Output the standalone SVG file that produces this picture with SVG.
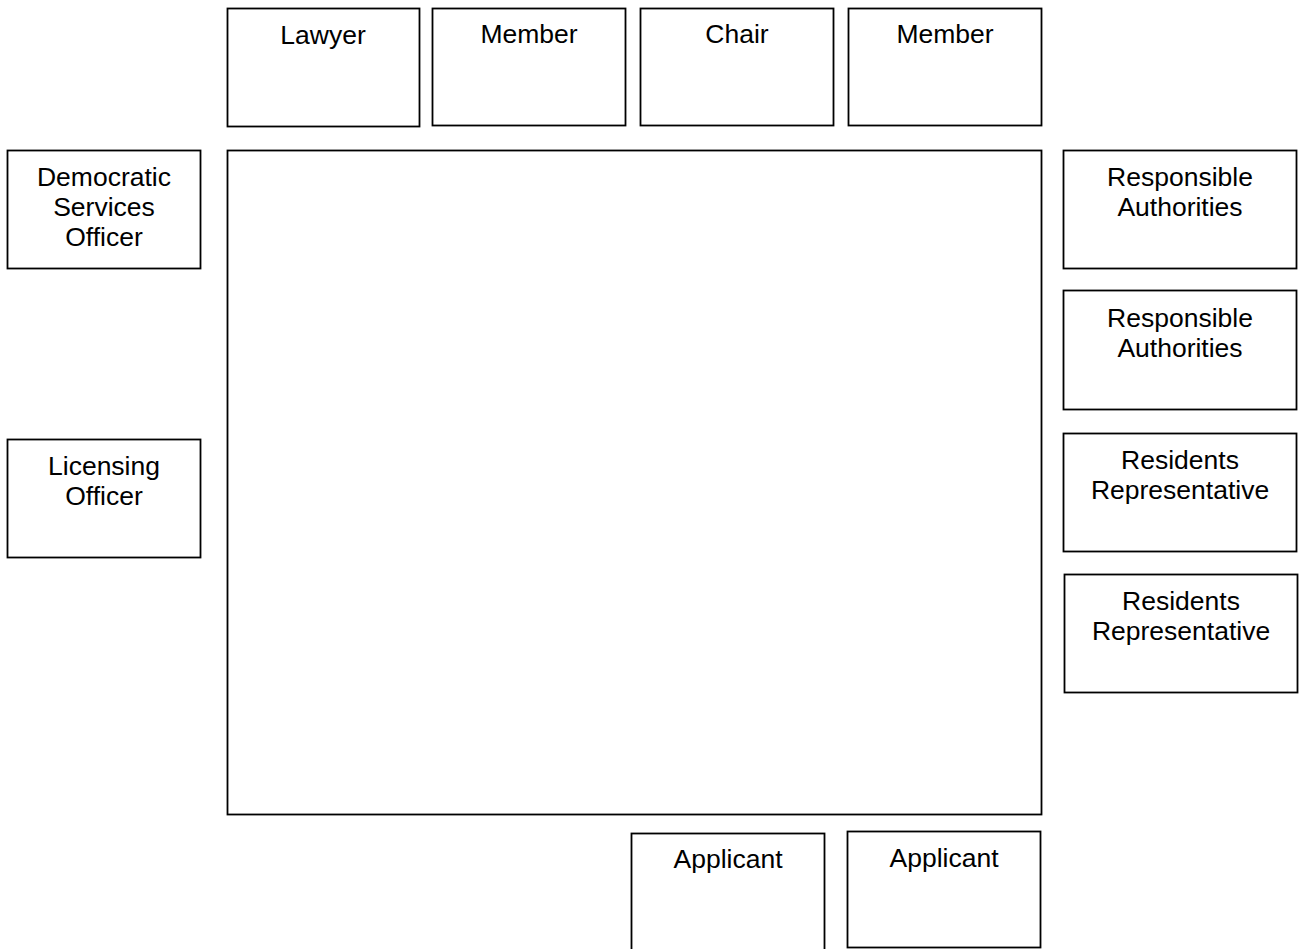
<svg xmlns="http://www.w3.org/2000/svg" width="1300" height="949" viewBox="0 0 1300 949">
<style>
rect.n{fill:#fff;stroke:#000;stroke-width:1.8}
text{font-family:"Liberation Sans",Arial,sans-serif;font-size:26.5px;fill:#000;text-anchor:middle}
</style>
<rect width="1300" height="949" fill="#fff"/>
<g id="table"><rect class="n" x="227.5" y="150.5" width="814" height="664"/></g>
<g id="lawyer"><rect class="n" x="227.5" y="8.5" width="192" height="118"/><text x="323" y="44">Lawyer</text></g>
<g id="member1"><rect class="n" x="432.5" y="8.5" width="193" height="117"/><text x="529" y="43">Member</text></g>
<g id="chair"><rect class="n" x="640.5" y="8.5" width="193" height="117"/><text x="737" y="43">Chair</text></g>
<g id="member2"><rect class="n" x="848.5" y="8.5" width="193" height="117"/><text x="945" y="43">Member</text></g>
<g id="dso"><rect class="n" x="7.5" y="150.5" width="193" height="118"/><text x="104" y="186">Democratic</text><text x="104" y="216">Services</text><text x="104" y="246">Officer</text></g>
<g id="licensing"><rect class="n" x="7.5" y="439.5" width="193" height="118"/><text x="104" y="475">Licensing</text><text x="104" y="505">Officer</text></g>
<g id="ra1"><rect class="n" x="1063.5" y="150.5" width="233" height="118"/><text x="1180" y="186">Responsible</text><text x="1180" y="216">Authorities</text></g>
<g id="ra2"><rect class="n" x="1063.5" y="290.5" width="233" height="119"/><text x="1180" y="327">Responsible</text><text x="1180" y="357">Authorities</text></g>
<g id="rr1"><rect class="n" x="1063.5" y="433.5" width="233" height="118"/><text x="1180" y="469">Residents</text><text x="1180" y="499">Representative</text></g>
<g id="rr2"><rect class="n" x="1064.5" y="574.5" width="233" height="118"/><text x="1181" y="610">Residents</text><text x="1181" y="640">Representative</text></g>
<g id="applicant1"><rect class="n" x="631.5" y="833.5" width="193" height="130"/><text x="728" y="868">Applicant</text></g>
<g id="applicant2"><rect class="n" x="847.5" y="831.5" width="193" height="116"/><text x="944" y="867">Applicant</text></g>
<g id="connectors"/>
</svg>
